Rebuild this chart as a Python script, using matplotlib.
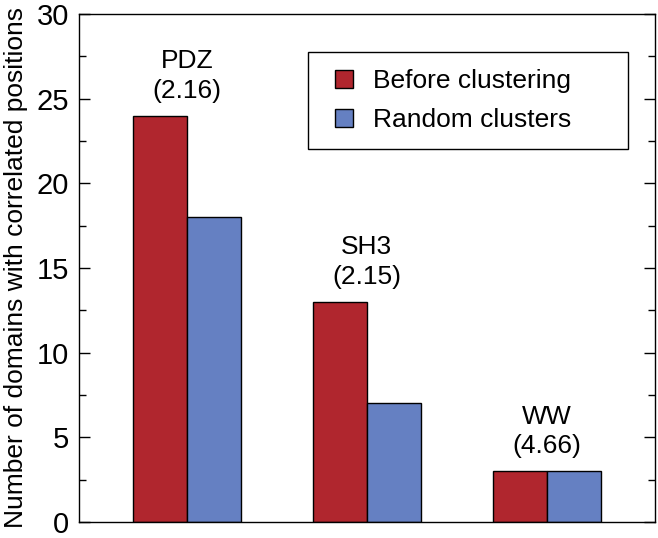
import numpy as np
import matplotlib
matplotlib.use("Agg")
import matplotlib.pyplot as plt
from matplotlib.lines import Line2D
from matplotlib.ticker import MultipleLocator

# -----------------------------
# Data
# -----------------------------
domains = ["PDZ", "SH3", "WW"]
scores = ["(2.16)", "(2.15)", "(4.66)"]
before_clustering = [24, 13, 3]
random_clusters = [18, 7, 3]
series_names = ["Before clustering", "Random clusters"]

plt.rcParams["font.family"] = ["Liberation Sans", "DejaVu Sans"]

red = "#B0262E"
blue = "#6580C2"

fig = plt.figure(figsize=(6.58, 5.38), dpi=100)
ax = fig.add_axes([0.120, 0.030, 0.875, 0.944])

x = np.arange(len(domains))
w = 0.3

ax.bar(x - w / 2, before_clustering, width=w, color=red,
       edgecolor="black", linewidth=1.0)
ax.bar(x + w / 2, random_clusters, width=w, color=blue,
       edgecolor="black", linewidth=1.0)

# domain name and score above each group
for i in range(len(domains)):
    top = max(before_clustering[i], random_clusters[i])
    ax.text(x[i], top + 0.75, domains[i] + "\n" + scores[i],
            ha="center", va="bottom", fontsize=19, linespacing=1.3)

ax.set_xlim(-0.6, 2.6)
ax.set_ylim(0, 30)
ax.set_xticks([])
ax.yaxis.set_major_locator(MultipleLocator(5))
ax.yaxis.set_minor_locator(MultipleLocator(2.5))
ax.tick_params(axis="y", which="both", direction="in", left=True, right=True,
               labelsize=21, width=1.0)
ax.tick_params(axis="y", which="major", length=8)
ax.tick_params(axis="y", which="minor", length=5)
ax.tick_params(axis="y", pad=7)

for s in ax.spines.values():
    s.set_linewidth(1.0)

ax.set_ylabel("Number of domains with correlated positions", fontsize=19, labelpad=6)

# square legend markers
handles = [
    Line2D([], [], linestyle="none", marker="s", markersize=13,
           markerfacecolor=c, markeredgecolor="black", markeredgewidth=1.0)
    for c in [red, blue]
]
leg = ax.legend(handles, series_names,
                loc="upper left", bbox_to_anchor=(0.398, 0.925, 0.555, 0.0),
                mode="expand", fontsize=19,
                fancybox=False, edgecolor="black", framealpha=1,
                handlelength=1.44, handletextpad=0.38,
                borderpad=0.65, labelspacing=0.55, borderaxespad=0)
leg.get_frame().set_linewidth(1.0)

fig.savefig("out.png", dpi=100)
